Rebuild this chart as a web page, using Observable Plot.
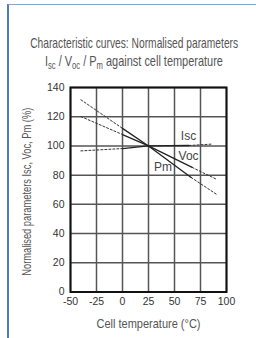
<!DOCTYPE html>
<html><head><meta charset="utf-8">
<script src="https://cdn.jsdelivr.net/npm/d3@7"></script>
<script src="https://cdn.jsdelivr.net/npm/@observablehq/plot@0.6"></script>
<style>
html,body{margin:0;padding:0;background:#fff;}
body{width:256px;height:338px;overflow:hidden;position:relative;font-family:"Liberation Sans Narrow","Liberation Sans",Arial,sans-serif;}
#border{position:absolute;left:7px;top:4px;right:-4px;bottom:-4px;border-left:2px solid #4e7db4;border-top:1px solid #86a8cf;}
.t{position:absolute;left:-66px;width:400px;text-align:center;font-size:15px;line-height:15px;color:#555;white-space:nowrap;}
.t span{display:inline-block;transform-origin:50% 50%;}
.t sub{font-size:10.5px;vertical-align:-3px;line-height:0;}
#chart{position:absolute;left:0;top:0;}
</style></head><body>
<div id="border"></div>
<div class="t" id="t1" style="top:35px"><span>Characteristic curves: Normalised parameters</span></div>
<div class="t" id="t2" style="top:53px"><span>I<sub>sc</sub> / V<sub>oc</sub> / P<sub>m</sub> against cell temperature</span></div>
<div id="chart"></div>
<script>
// ---- data ----
const xTicks = [-50, -25, 0, 25, 50, 75, 100];
const yTicks = [0, 20, 40, 60, 80, 100, 120, 140];
const iscT = [-40, 0, 25, 64, 87];
const iscV = [96.6, 98.2, 100, 100.3, 101.3];
const vocT = [-40, 0, 25, 67, 90];
const vocV = [120.1, 107.8, 100, 85.3, 77.3];
const pmT = [-40, 0, 25, 66, 91];
const pmV = [131.6, 112, 100, 78.4, 66.6];
const labelNames = ["Isc", "Voc", "Pm"];
const labelT = [63.5, 63.5, 39];
const labelV = [106.9, 93.1, 85.6];
const xLabel = "Cell temperature (°C)";
const yLabel = "Normalised parameters Isc, Voc, Pm (%)";

// ---- build ----
const parts = [[0, 1, "dot"], [1, 3, "solid"], [3, 4, "dot"]];
function segs(name, T, V) {
  return parts.flatMap(([a, b, s]) => d3.range(a, b + 1).map(i => ({series: name, seg: name + a, style: s, t: T[i], v: V[i]})));
}
const rows = [...segs("Isc", iscT, iscV), ...segs("Voc", vocT, vocV), ...segs("Pm", pmT, pmV)];
const labels = labelNames.map((n, i) => ({n, t: labelT[i], v: labelV[i]}));
const font = '"Liberation Sans Narrow","Liberation Sans",Arial,sans-serif';

const plot = Plot.plot({
  width: 256, height: 338,
  marginLeft: 70, marginRight: 30, marginTop: 87, marginBottom: 46.5,
  style: {fontFamily: font, background: "transparent", overflow: "visible"},
  x: {domain: [-50, 100]},
  y: {domain: [0, 140]},
  marks: [
    Plot.gridX(xTicks, {stroke: "#555", strokeOpacity: 1, strokeWidth: 1.5}),
    Plot.gridY(yTicks, {stroke: "#555", strokeOpacity: 1, strokeWidth: 1.5}),
    Plot.line(rows.filter(d => d.style === "solid"), {x: "t", y: "v", z: "seg", stroke: "#222", strokeWidth: 1.3}),
    Plot.line(rows.filter(d => d.style === "dot"), {x: "t", y: "v", z: "seg", stroke: "#333", strokeWidth: 1, strokeDasharray: "2,2"}),
    Plot.text(labels, {x: "t", y: "v", text: "n", fontSize: 12, fill: "#444"}),
    Plot.frame({stroke: "#111", strokeWidth: 2}),
    Plot.axisX(xTicks, {tickSize: 0, tickPadding: 6, fontSize: 10.5, fill: "#333", label: null, tickFormat: d => String(d)}),
    Plot.axisY(yTicks, {tickSize: 0, tickPadding: 6, fontSize: 10.5, fill: "#333", label: null, tickFormat: d => String(d)}),
    Plot.text([xLabel], {className: "xlab", frameAnchor: "bottom", lineAnchor: "middle", dy: 31.5, fontSize: 13.5, fill: "#555"}),
    Plot.text([yLabel], {className: "ylab", frameAnchor: "left", textAnchor: "middle", lineAnchor: "middle", rotate: -90, dx: -43, dy: 2, fontSize: 12, fill: "#555"})
  ]
});
document.getElementById("chart").appendChild(plot);

// condense axis titles to the reference's narrow widths
function condense(cls, w) {
  plot.querySelectorAll("." + cls + " text").forEach(t => {
    t.setAttribute("textLength", w);
    t.setAttribute("lengthAdjust", "spacingAndGlyphs");
  });
}
condense("xlab", 104);
condense("ylab", 168);

// fit title lines to measured widths of the reference
function fit(id, w) {
  const s = document.querySelector("#" + id + " span");
  const k = w / s.getBoundingClientRect().width;
  s.style.transform = "scaleX(" + k + ")";
}
fit("t1", 208);
fit("t2", 178);
</script>
</body></html>
